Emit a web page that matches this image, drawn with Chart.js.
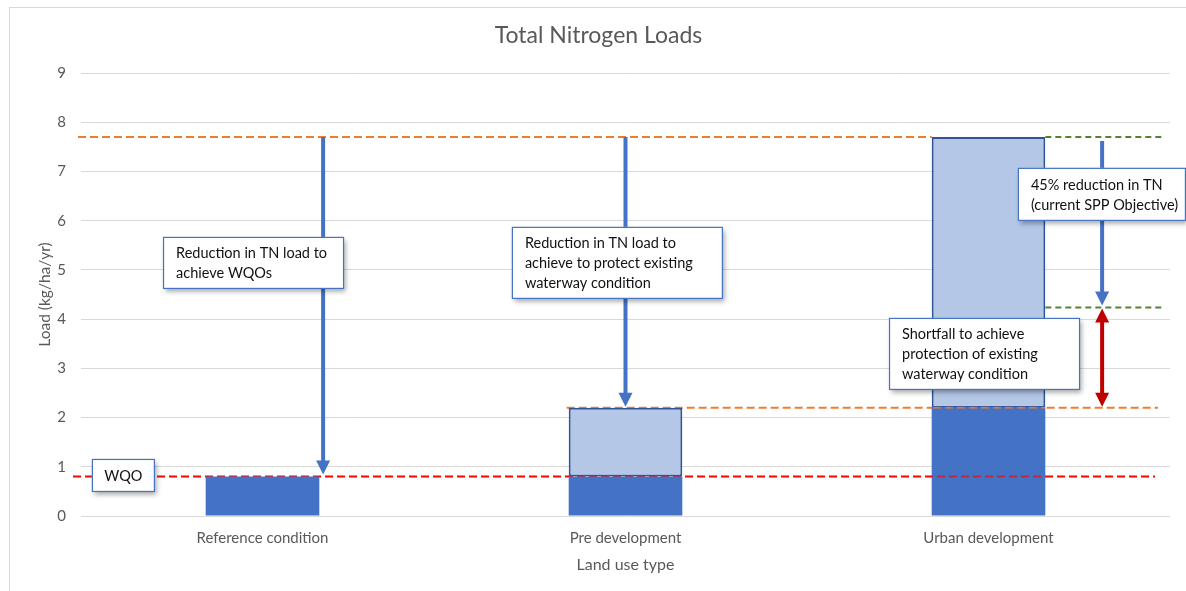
<!DOCTYPE html>
<html>
<head>
<meta charset="utf-8">
<title>Total Nitrogen Loads</title>
<script src="https://cdn.jsdelivr.net/npm/chart.js@4/dist/chart.umd.min.js"></script>
<style>
  html, body { margin: 0; padding: 0; background: #fff; }
  #wrap { width: 1186px; height: 591px; }
</style>
</head>
<body>
<div id="wrap"><canvas id="chart" width="1186" height="591"></canvas></div>
<script>
// Land use categories and their nitrogen loads (kg/ha/yr)
const categories = ['Reference condition', 'Pre development', 'Urban development'];
const baseLoads = [0.8, 0.8, 2.2];        // lower (dark) portion of each column
const additionalLoads = [0, 1.4, 5.5];    // upper (light) portion of each column

// Key load levels
const wqoLevel = 0.8;          // water quality objective
const preDevLevel = 2.2;       // pre development load
const urbanLevel = 7.7;        // urban development load
const sppReductionPct = 45;    // current SPP objective reduction
const sppTargetLevel = +(urbanLevel * (1 - sppReductionPct / 100)).toFixed(3);

// Y axis ticks
const yTickMin = 0;
const yTickMax = 9;
const yTickStep = 1;

const FONT = 'Lato, "Open Sans", sans-serif';

// Helpers to place annotation elements using the chart's own scales
function catX(chart, idx, frac) {
  const xs = chart.scales.x;
  const w = xs.getPixelForValue(1) - xs.getPixelForValue(0);
  return xs.getPixelForValue(idx) + frac * w;
}
function barBox(chart, datasetIndex, idx) {
  const el = chart.getDatasetMeta(datasetIndex).data[idx];
  return { left: el.x - el.width / 2, right: el.x + el.width / 2, top: Math.min(el.y, el.base), bottom: Math.max(el.y, el.base) };
}
function dashed(ctx, x1, x2, y, color, width, dash) {
  ctx.save();
  ctx.strokeStyle = color;
  ctx.lineWidth = width;
  ctx.setLineDash(dash);
  ctx.beginPath();
  ctx.moveTo(x1, y);
  ctx.lineTo(x2, y);
  ctx.stroke();
  ctx.restore();
}
function arrowHead(ctx, x, tipY, dir, len, half) {
  ctx.beginPath();
  ctx.moveTo(x, tipY);
  ctx.lineTo(x - half, tipY - dir * len);
  ctx.lineTo(x + half, tipY - dir * len);
  ctx.closePath();
  ctx.fill();
}
function verticalArrow(ctx, x, yStart, yEnd, color, both) {
  const len = 14, half = 7;
  ctx.save();
  ctx.strokeStyle = color;
  ctx.fillStyle = color;
  ctx.lineWidth = 4;
  ctx.beginPath();
  ctx.moveTo(x, both ? yStart + len - 1 : yStart);
  ctx.lineTo(x, yEnd - len + 1);
  ctx.stroke();
  arrowHead(ctx, x, yEnd, 1, len, half);
  if (both) arrowHead(ctx, x, yStart, -1, len, half);
  ctx.restore();
}
function callout(ctx, left, top, w, h, lines, center) {
  ctx.save();
  ctx.shadowColor = 'rgba(0,0,0,0.35)';
  ctx.shadowBlur = 5;
  ctx.shadowOffsetX = 2;
  ctx.shadowOffsetY = 3;
  ctx.fillStyle = '#ffffff';
  ctx.fillRect(left, top, w, h);
  ctx.restore();
  ctx.save();
  ctx.strokeStyle = '#4472C4';
  ctx.lineWidth = 1.2;
  ctx.strokeRect(left + 0.5, top + 0.5, w - 1, h - 1);
  ctx.fillStyle = '#111111';
  ctx.font = '14.5px ' + FONT;
  ctx.textBaseline = 'middle';
  if (center) {
    ctx.textAlign = 'center';
    ctx.fillText(lines[0], left + w / 2, top + h / 2 + 1);
  } else {
    ctx.textAlign = 'left';
    const mid = top + h / 2 + 0.5;
    lines.forEach((t, i) => ctx.fillText(t, left + 13, mid + (i - (lines.length - 1) / 2) * 20));
  }
  ctx.restore();
}

// Background, outer frame, target lines, arrows and callouts
const annotationPlugin = {
  id: 'nitrogenAnnotations',
  beforeDraw(chart) {
    const ctx = chart.ctx;
    ctx.save();
    ctx.fillStyle = '#ffffff';
    ctx.fillRect(0, 0, chart.width, chart.height);
    ctx.strokeStyle = '#D9D9D9';
    ctx.lineWidth = 1;
    ctx.strokeRect(9.5, 7.5, chart.width + 10, chart.height + 10);
    ctx.restore();
  },
  beforeDatasetsDraw(chart) {
    const ctx = chart.ctx, y = chart.scales.y, area = chart.chartArea;
    const urban = barBox(chart, 1, 2);
    const pre = barBox(chart, 1, 1);
    const orange = '#ED7D31', red = '#FF0000';
    dashed(ctx, area.left - 3, urban.left, y.getPixelForValue(urbanLevel), orange, 2, [8, 4]);
    dashed(ctx, area.left - 8, area.right - 15, y.getPixelForValue(wqoLevel), red, 2, [8, 4]);
    dashed(ctx, pre.left - 2, area.right - 12, y.getPixelForValue(preDevLevel), orange, 2, [8, 4]);
  },
  afterDatasetsDraw(chart) {
    const ctx = chart.ctx, y = chart.scales.y, area = chart.chartArea;
    const urban = barBox(chart, 1, 2);
    const orange = '#ED7D31', red = '#FF0000', green = '#548235';

    // lines shown across the urban column
    ctx.save();
    ctx.beginPath();
    ctx.rect(urban.left, area.top, urban.right - urban.left, area.bottom - area.top);
    ctx.clip();
    ctx.globalAlpha = 0.65;
    dashed(ctx, area.left - 8, area.right - 15, y.getPixelForValue(wqoLevel), red, 2, [8, 4]);
    dashed(ctx, area.left, area.right - 12, y.getPixelForValue(preDevLevel), orange, 2, [8, 4]);
    ctx.restore();

    // SPP objective lines
    dashed(ctx, urban.right, area.right - 7, y.getPixelForValue(urbanLevel), green, 2, [6, 4]);
    dashed(ctx, urban.right, area.right - 7, y.getPixelForValue(sppTargetLevel), green, 2, [6, 4]);

    // reduction arrows
    const blue = '#4472C4', darkRed = '#C00000';
    verticalArrow(ctx, catX(chart, 0, 0.167), y.getPixelForValue(urbanLevel), y.getPixelForValue(wqoLevel) - 2, blue, false);
    verticalArrow(ctx, catX(chart, 1, 0.0), y.getPixelForValue(urbanLevel), y.getPixelForValue(preDevLevel) - 1, blue, false);
    const ax = catX(chart, 2, 0.313);
    verticalArrow(ctx, ax, y.getPixelForValue(urbanLevel) + 4, y.getPixelForValue(sppTargetLevel) - 2, blue, false);
    verticalArrow(ctx, ax, y.getPixelForValue(sppTargetLevel) + 1, y.getPixelForValue(preDevLevel) - 1, darkRed, true);

    // callout boxes
    callout(ctx, catX(chart, 0, -0.274), y.getPixelForValue(5.67), 181, 52,
      ['Reduction in TN load to', 'achieve WQOs']);
    callout(ctx, catX(chart, 1, -0.313), y.getPixelForValue(5.874), 211, 72,
      ['Reduction in TN load to', 'achieve to protect existing', 'waterway condition']);
    callout(ctx, catX(chart, 2, 0.081), y.getPixelForValue(7.073), 168, 53,
      [sppReductionPct + '% reduction in TN', '(current SPP Objective)']);
    callout(ctx, catX(chart, 2, -0.274), y.getPixelForValue(4.024), 191, 72,
      ['Shortfall to achieve', 'protection of existing', 'waterway condition']);
    callout(ctx, catX(chart, 0, -0.470), y.getPixelForValue(1.159), 63, 33, ['WQO'], true);
  }
};

Chart.defaults.font.family = FONT;
Chart.defaults.color = '#595959';

new Chart(document.getElementById('chart'), {
  type: 'bar',
  data: {
    labels: categories,
    datasets: [
      {
        label: 'Base load',
        data: baseLoads,
        backgroundColor: '#4472C4',
        borderWidth: 0,
        barPercentage: 0.313,
        categoryPercentage: 1
      },
      {
        label: 'Additional load',
        data: additionalLoads,
        backgroundColor: '#B4C7E7',
        borderColor: '#2F5597',
        borderWidth: 2,
        borderSkipped: false,
        barPercentage: 0.313,
        categoryPercentage: 1
      }
    ]
  },
  options: {
    responsive: false,
    animation: false,
    layout: { padding: { left: 27, right: 16, top: 0, bottom: 0 } },
    plugins: {
      legend: { display: false },
      tooltip: { enabled: false },
      title: {
        display: true,
        text: 'Total Nitrogen Loads',
        color: '#595959',
        font: { size: 23, weight: 'normal', family: FONT },
        padding: { top: 22.2, bottom: 23.2 }
      }
    },
    scales: {
      x: {
        stacked: true,
        grid: { display: false, drawTicks: false },
        border: { display: false },
        ticks: { color: '#595959', font: { size: 15 }, padding: 13 },
        title: {
          display: true,
          text: 'Land use type',
          color: '#595959',
          font: { size: 16 },
          padding: { top: 0, bottom: 16.4 }
        },
        afterFit(scale) { scale.height = 75; }
      },
      y: {
        stacked: true,
        min: yTickMin,
        max: yTickMax,
        ticks: { stepSize: yTickStep, color: '#595959', font: { size: 15 }, padding: 15 },
        grid: { color: '#D9D9D9', lineWidth: 1, drawTicks: false },
        border: { display: false },
        title: {
          display: true,
          text: 'Load (kg/ha/yr)',
          color: '#595959',
          font: { size: 15.5 },
          padding: { top: 9, bottom: 0 }
        },
        afterFit(scale) { scale.width = 54; }
      }
    }
  },
  plugins: [annotationPlugin]
});
</script>
</body>
</html>
